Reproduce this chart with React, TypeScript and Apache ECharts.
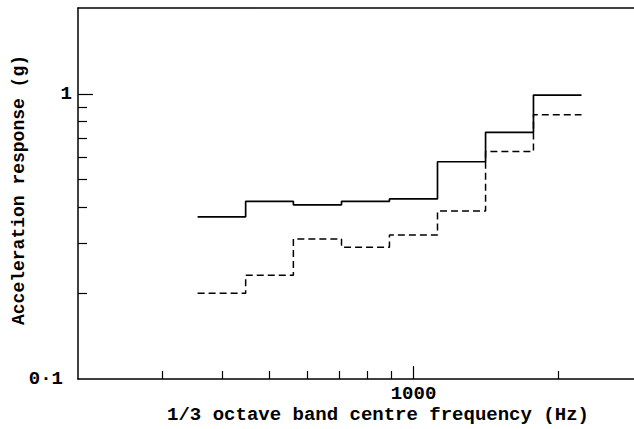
import React, { useEffect, useRef } from "react";
import * as echarts from "echarts";

// 1/3 octave band edges (Hz) for bands centred at 400 ... 2000 Hz
const bandEdges = [355, 447, 562, 708, 891, 1122, 1413, 1778, 2239];
// Acceleration response (g) per band
const solidResponse = [0.37, 0.42, 0.408, 0.42, 0.428, 0.578, 0.733, 0.99];
const dashedResponse = [0.2, 0.231, 0.31, 0.29, 0.32, 0.388, 0.628, 0.844];

const xMinorTicks = [300, 400, 500, 600, 700, 800, 900, 2000];
const xMajorTicks = [1000];
const xTickLabels = [1000];
const yMinorTicks = [0.2, 0.3, 0.4, 0.5, 0.6, 0.7, 0.8, 0.9];
const yMajorTicks = [1];
const yTickLabels = [0.1, 1];

const xTitle = "1/3 octave band centre frequency (Hz)";
const yTitle = "Acceleration response (g)";

const FONT = "Liberation Mono";

function stepData(values: number[]): number[][] {
  const pts = values.map((v, i) => [bandEdges[i], v]);
  pts.push([bandEdges[values.length], values[values.length - 1]]);
  return pts;
}

export default function App() {
  const ref = useRef<HTMLDivElement>(null);
  useEffect(() => {
    if (!ref.current) return;
    const chart = echarts.init(ref.current, undefined, { renderer: "svg" });
    const xBase = { type: "log", logBase: 10, min: 200, max: 2880, gridIndex: 0 };
    const yBase = { type: "log", logBase: 10, min: 0.1, max: 2, gridIndex: 0 };
    chart.setOption({
      animation: false,
      backgroundColor: "#fff",
      grid: { left: 78, right: 0, top: 8, bottom: 50, containLabel: false },
      xAxis: [
        {
          ...xBase,
          position: "bottom",
          axisLine: { show: true, lineStyle: { color: "#000", width: 1.5 } },
          axisTick: {
            show: true,
            inside: true,
            length: 8,
            customValues: xMinorTicks,
            lineStyle: { color: "#000", width: 1.2 },
          },
          axisLabel: {
            show: true,
            customValues: xTickLabels,
            formatter: (v: number) => String(Math.round(v)),
            margin: 5,
            color: "#000",
            fontFamily: FONT,
            fontWeight: "bold",
            fontSize: 19,
          },
          splitLine: { show: false },
          minorTick: { show: false },
        },
        {
          ...xBase,
          position: "bottom",
          axisLine: { show: false },
          axisTick: {
            show: true,
            inside: true,
            length: 13,
            customValues: xMajorTicks,
            lineStyle: { color: "#000", width: 1.2 },
          },
          axisLabel: { show: false },
          splitLine: { show: false },
        },
        {
          ...xBase,
          position: "top",
          axisLine: { show: true, onZero: false, lineStyle: { color: "#000", width: 1.5 } },
          axisTick: { show: false },
          axisLabel: { show: false },
          splitLine: { show: false },
        },
      ],
      yAxis: [
        {
          ...yBase,
          position: "left",
          axisLine: { show: true, lineStyle: { color: "#000", width: 1.5 } },
          axisTick: {
            show: true,
            inside: true,
            length: 9,
            customValues: yMinorTicks,
            lineStyle: { color: "#000", width: 1.2 },
          },
          axisLabel: {
            show: true,
            customValues: yTickLabels,
            formatter: (v: number) => (v < 0.5 ? "{s|0·1}" : "{n|1}"),
            margin: 6,
            color: "#000",
            fontFamily: FONT,
            fontWeight: "bold",
            fontSize: 19,
            rich: {
              s: { fontFamily: FONT, fontWeight: "bold", fontSize: 19, color: "#000", padding: [0, 9, 0, 0] },
              n: { fontFamily: FONT, fontWeight: "bold", fontSize: 19, color: "#000" },
            },
          },
          splitLine: { show: false },
        },
        {
          ...yBase,
          position: "left",
          axisLine: { show: false },
          axisTick: {
            show: true,
            inside: true,
            length: 15,
            customValues: yMajorTicks,
            lineStyle: { color: "#000", width: 1.2 },
          },
          axisLabel: { show: false },
          splitLine: { show: false },
        },
      ],
      graphic: [
        {
          type: "text",
          x: 378,
          y: 415,
          style: {
            text: xTitle,
            align: "center",
            verticalAlign: "middle",
            fontFamily: FONT,
            fontWeight: "bold",
            fontSize: 19,
            fill: "#000",
          },
        },
        {
          type: "text",
          x: 19,
          y: 190,
          rotation: Math.PI / 2,
          style: {
            text: yTitle,
            align: "center",
            verticalAlign: "middle",
            fontFamily: FONT,
            fontWeight: "bold",
            fontSize: 18,
            fill: "#000",
          },
        },
      ],
      series: [
        {
          type: "line",
          xAxisIndex: 0,
          yAxisIndex: 0,
          step: "end",
          symbol: "none",
          data: stepData(solidResponse),
          lineStyle: { color: "#000", width: 1.7, type: "solid" },
        },
        {
          type: "line",
          xAxisIndex: 0,
          yAxisIndex: 0,
          step: "end",
          symbol: "none",
          data: stepData(dashedResponse),
          lineStyle: { color: "#000", width: 1.5, type: [7, 4] },
        },
      ],
    });
    return () => chart.dispose();
  }, []);
  return (
    <div
      ref={ref}
      style={{ position: "fixed", left: 0, top: 0, width: 634, height: 429, background: "#fff" }}
    />
  );
}
